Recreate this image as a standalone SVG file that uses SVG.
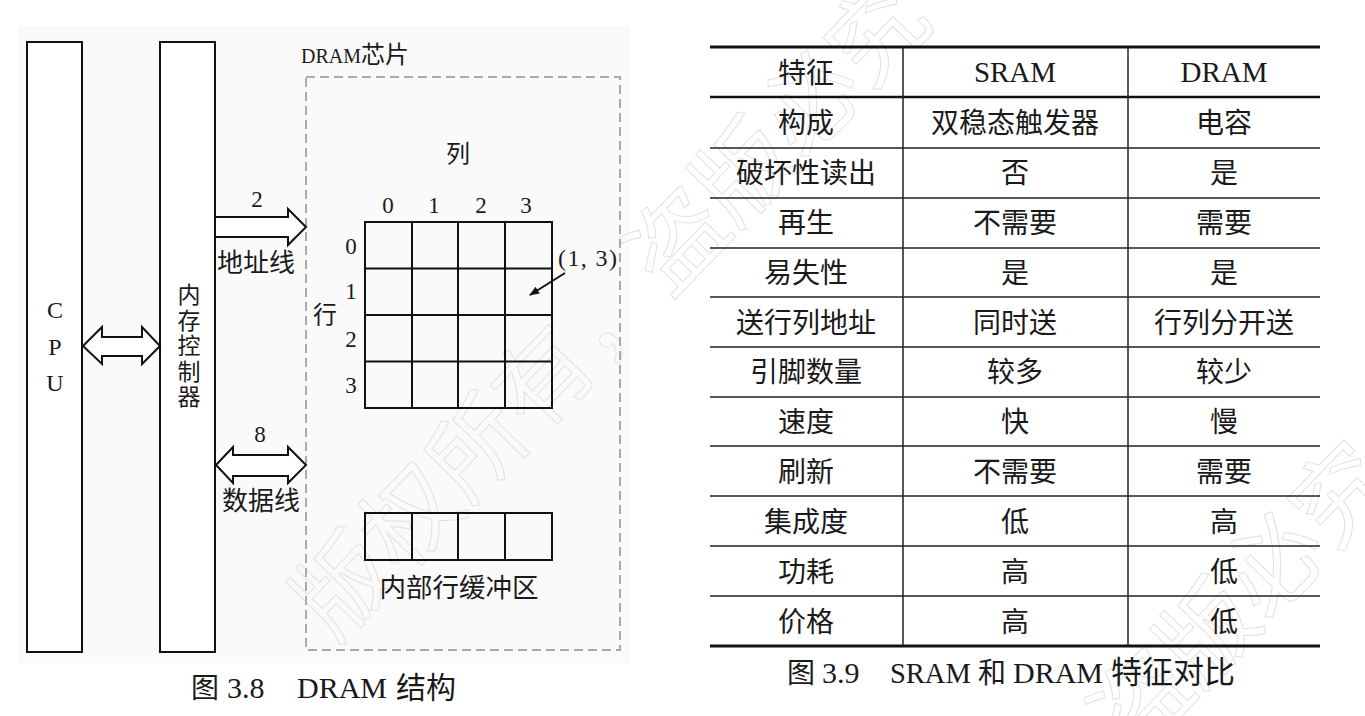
<svg xmlns="http://www.w3.org/2000/svg" width="1365" height="716" viewBox="0 0 1365 716">
<style>
.box{fill:#fff;stroke:#111;stroke-width:2}
.grid{fill:none;stroke:#111;stroke-width:2}
.dash{fill:none;stroke:#aaa;stroke-width:2;stroke-dasharray:9 5}
.arr{fill:#fff;stroke:#111;stroke-width:2;stroke-linejoin:miter}
.cjk{font-family:'Noto Sans CJK SC','Noto Sans CJK TC',sans-serif;fill:#1a1a1a}
.lat{font-family:'Liberation Serif',serif;fill:#1a1a1a}
.c{text-anchor:middle}
.thin{stroke:#222;stroke-width:1.5}
.thick{stroke:#111;stroke-width:3}
.wm{font-family:'Noto Sans CJK SC',sans-serif;font-size:96px;fill:none;stroke:#e2e2e2;stroke-width:1}
.tb{font-size:28px}
.tl{font-size:29px}
</style>
<defs>
<marker id="ah" viewBox="0 0 10 8" refX="9" refY="4" markerWidth="11" markerHeight="8" markerUnits="userSpaceOnUse" orient="auto"><path d="M0,0 L10,4 L0,8 z" fill="#111"/></marker>
</defs>
<rect width="1365" height="716" fill="#fff"/>
<rect x="18" y="26" width="612" height="637" fill="#fafafa"/>
<g id="watermark">
<text class="wm" x="335" y="644" transform="rotate(-46 335 644)">版权所有，盗版必究</text>
<text class="wm" x="799" y="1105" transform="rotate(-46 799 1105)">版权所有，盗版必究</text>
</g>
<g id="cpu">
<rect class="box" x="27" y="42" width="55" height="610"/>
<text class="lat c" font-size="24" x="55" y="318">C</text>
<text class="lat c" font-size="24" x="55" y="355">P</text>
<text class="lat c" font-size="24" x="55" y="391">U</text>
</g>
<g id="memory-controller">
<rect class="box" x="160" y="42" width="55" height="610"/>
<text class="cjk" font-size="23" x="189" y="283" writing-mode="vertical-rl" letter-spacing="2.5">内存控制器</text>
</g>
<g id="dram-chip">
<rect class="dash" x="306" y="77" width="314" height="573"/>
<text x="301" y="63"><tspan class="lat" font-size="20">DRAM</tspan><tspan class="cjk" font-size="24">芯片</tspan></text>
</g>
<g id="cell-array">
<rect class="grid" x="365" y="222" width="187" height="186"/>
<path class="grid" d="M412,222V408M458,222V408M505,222V408M365,268.5H552M365,315H552M365,361.5H552"/>
<text class="cjk c" font-size="24" x="458" y="162">列</text>
<text class="lat c" font-size="23" x="388" y="213">0</text>
<text class="lat c" font-size="23" x="434" y="213">1</text>
<text class="lat c" font-size="23" x="481" y="213">2</text>
<text class="lat c" font-size="23" x="526" y="213">3</text>
<text class="lat c" font-size="23" x="351" y="254">0</text>
<text class="lat c" font-size="23" x="351" y="299">1</text>
<text class="lat c" font-size="23" x="351" y="347">2</text>
<text class="lat c" font-size="23" x="351" y="393">3</text>
<text class="cjk c" font-size="24" x="325" y="323">行</text>
<text class="lat" font-size="24" x="558" y="266" textLength="59" lengthAdjust="spacing">(1, 3)</text>
</g>
<g id="row-buffer">
<rect class="grid" x="365" y="513" width="187" height="47"/>
<path class="grid" d="M412,513V560M458,513V560M505,513V560"/>
<text class="cjk c" font-size="26.5" x="459" y="597">内部行缓冲区</text>
</g>
<g id="connectors">
<polygon class="arr" points="83,346 102,327 102,337 142,337 142,327 160,346 142,364 142,356 102,356 102,364"/>
<polygon class="arr" points="215,217 288,217 288,209 306,227 288,245 288,237 215,237"/>
<polygon class="arr" points="216,465 233,447 233,455 288,455 288,447 306,465 288,483 288,476 233,476 233,483"/>
<line x1="565" y1="273" x2="530" y2="295" stroke="#111" stroke-width="2" marker-end="url(#ah)"/>
<text class="lat c" font-size="23" x="257" y="207">2</text>
<text class="cjk c" font-size="26" x="256" y="272">地址线</text>
<text class="lat c" font-size="23" x="260" y="442">8</text>
<text class="cjk c" font-size="26" x="261" y="510">数据线</text>
</g>
<g id="caption-3-8">
<text y="698"><tspan class="cjk" font-size="28" x="191">图</tspan><tspan class="lat" font-size="30" x="227">3.8</tspan><tspan class="lat" font-size="30" x="297">DRAM</tspan><tspan class="cjk" font-size="30" x="396">结构</tspan></text>
</g>
<g id="table">
<path class="thick" d="M710,47H1320M710,646H1320"/>
<path stroke="#111" stroke-width="2.5" d="M710,97H1320"/>
<path class="thin" d="M710,148H1320M710,198H1320M710,248H1320M710,297H1320M710,347H1320M710,397H1320M710,446H1320M710,496H1320M710,546H1320M710,596H1320M903,47V646M1128,47V646"/>
<g class="tb">
<text class="cjk c" x="806" y="83">特征</text><text class="lat c tl" x="1015" y="82">SRAM</text><text class="lat c tl" x="1224" y="82">DRAM</text>
<text class="cjk c" x="806" y="133">构成</text><text class="cjk c" x="1015" y="133">双稳态触发器</text><text class="cjk c" x="1224" y="133">电容</text>
<text class="cjk c" x="806" y="183">破坏性读出</text><text class="cjk c" x="1015" y="183">否</text><text class="cjk c" x="1224" y="183">是</text>
<text class="cjk c" x="806" y="233">再生</text><text class="cjk c" x="1015" y="233">不需要</text><text class="cjk c" x="1224" y="233">需要</text>
<text class="cjk c" x="806" y="283">易失性</text><text class="cjk c" x="1015" y="283">是</text><text class="cjk c" x="1224" y="283">是</text>
<text class="cjk c" x="806" y="333">送行列地址</text><text class="cjk c" x="1015" y="333">同时送</text><text class="cjk c" x="1224" y="333">行列分开送</text>
<text class="cjk c" x="806" y="382">引脚数量</text><text class="cjk c" x="1015" y="382">较多</text><text class="cjk c" x="1224" y="382">较少</text>
<text class="cjk c" x="806" y="432">速度</text><text class="cjk c" x="1015" y="432">快</text><text class="cjk c" x="1224" y="432">慢</text>
<text class="cjk c" x="806" y="482">刷新</text><text class="cjk c" x="1015" y="482">不需要</text><text class="cjk c" x="1224" y="482">需要</text>
<text class="cjk c" x="806" y="532">集成度</text><text class="cjk c" x="1015" y="532">低</text><text class="cjk c" x="1224" y="532">高</text>
<text class="cjk c" x="806" y="582">功耗</text><text class="cjk c" x="1015" y="582">高</text><text class="cjk c" x="1224" y="582">低</text>
<text class="cjk c" x="806" y="632">价格</text><text class="cjk c" x="1015" y="632">高</text><text class="cjk c" x="1224" y="632">低</text>
</g>
</g>
<g id="caption-3-9">
<text y="683"><tspan class="cjk" font-size="28" x="787">图</tspan><tspan class="lat" font-size="30" x="822">3.9</tspan><tspan class="lat" font-size="28.5" x="890">SRAM</tspan><tspan class="cjk" font-size="28" x="978">和</tspan><tspan class="lat" font-size="30" x="1013">DRAM</tspan><tspan class="cjk" font-size="31" x="1111">特征对比</tspan></text>
</g>
</svg>
